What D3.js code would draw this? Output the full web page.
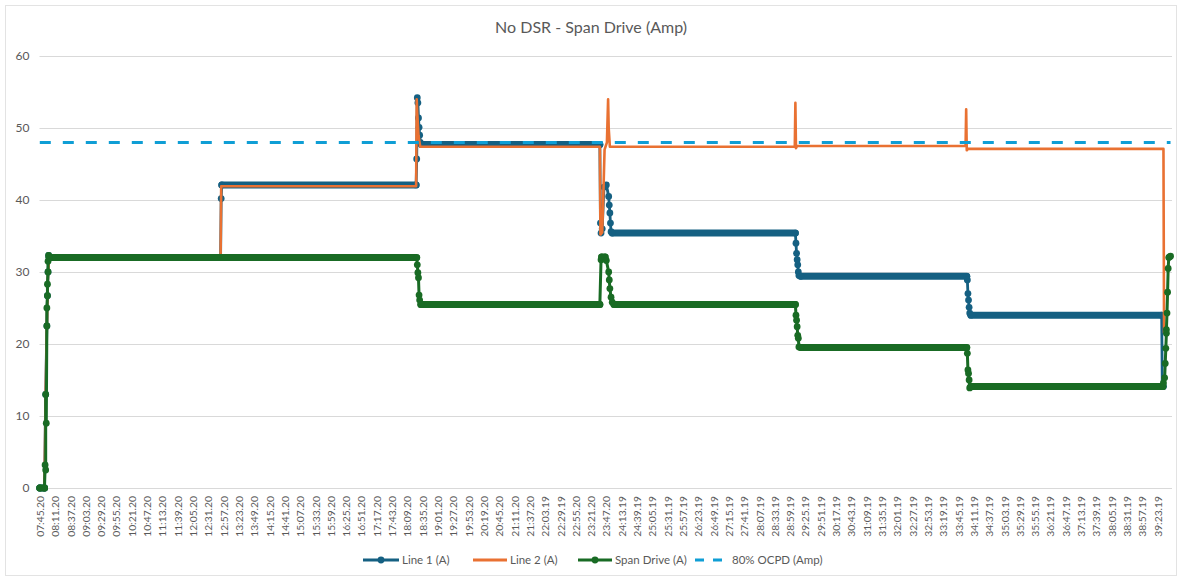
<!DOCTYPE html>
<html>
<head>
<meta charset="utf-8">
<script src="https://cdn.jsdelivr.net/npm/d3@7/dist/d3.min.js"></script>
<style>
  html, body { margin: 0; padding: 0; background: #ffffff; }
  svg { display: block; font-family: "Lato", "Open Sans", sans-serif; }
</style>
</head>
<body>
<svg id="chart" width="1182" height="580"></svg>
<script>
// ---------- DATA ----------
const chartTitle = "No DSR - Span Drive (Amp)";
const seriesNames = ["Line 1 (A)", "Line 2 (A)", "Span Drive (A)", "80% OCPD (Amp)"];
const yTicks = [0, 10, 20, 30, 40, 50, 60];
const labelStep = 26; // seconds between shown category labels
const timeLabels = ["07:45.20","08:11.20","08:37.20","09:03.20","09:29.20","09:55.20","10:21.20","10:47.20","11:13.20","11:39.20","12:05.20","12:31.20","12:57.20","13:23.20","13:49.20","14:15.20","14:41.20","15:07.20","15:33.20","15:59.20","16:25.20","16:51.20","17:17.20","17:43.20","18:09.20","18:35.20","19:01.20","19:27.20","19:53.20","20:19.20","20:45.20","21:11.20","21:37.20","22:03.19","22:29.19","22:55.20","23:21.20","23:47.20","24:13.19","24:39.19","25:05.19","25:31.19","25:57.19","26:23.19","26:49.19","27:15.19","27:41.19","28:07.19","28:33.19","28:59.19","29:25.19","29:51.19","30:17.19","30:43.19","31:09.19","31:35.19","32:01.19","32:27.19","32:53.19","33:19.19","33:45.19","34:11.19","34:37.19","35:03.19","35:29.19","35:55.19","36:21.19","36:47.19","37:13.19","37:39.19","38:05.19","38:31.19","38:57.19","39:23.19"];
const sampleCount = 1923; // samples (seconds) on the category axis

// [sample index (s from 07:45.20), amps]
const line1 = [[0,0],[8,0],[10,13],[12,22.5],[13,26.7],[14,30],[15,32.3],[16,32],
  [307,32],[308,40.2],[309,42.1],
  [639,42.1],[640,45.7],[641,54.2],[642,53.5],[643,51.4],[644,50.1],[645,49],[646,48],[648,47.7],
  [951,47.7],[952,36.8],[953,35.4],[955,36],[958,41.8],[962,42.1],[966,40.5],[967,39.3],[968,38.2],[969,36.8],[970,35.6],[972,35.4],
  [1283,35.4],[1284,34],[1285,32.6],[1286,31.7],[1287,31],[1288,30],[1289,29.5],[1292,29.4],
  [1574,29.4],[1575,28.9],[1576,27],[1577,26.1],[1578,25.1],[1579,24.3],[1581,24.0],
  [1905,24.0],[1906,14.2],[1908,14.1]];
const line2 = [[0,0],[8,0],[10,13],[12,22.5],[14,30],[16,32],[307,32],[308,41.9],
  [639,41.9],[640,54],[641,52],[643,49],[646,47.4],
  [951,47.4],[952,35.2],[955,35.5],[957,41],[959,47],[963,48],[965,54],[966,50],[968,47.4],
  [1282,47.4],[1283,53.5],[1284,47.2],[1286,47.5],
  [1572,47.5],[1573,52.6],[1574,46.9],[1576,47.1],
  [1908,47.1],[1909,21.5]];
const spanDrive = [[0,0],[8,0],[9,3.2],[10,2.5],[10,13],[11,9],[12,22.5],[12,25],[13,26.7],[13,28.3],[14,30],[14,31.5],[15,32.3],[16,32],
  [640,32],[641,31],[642,29.9],[643,29.2],[644,26.8],[645,26.1],[647,25.5],
  [951,25.5],[953,31.7],[954,32.1],[960,32.1],[962,31.6],[966,30],[967,28.9],[968,27.7],[970,26.5],[972,25.8],[975,25.5],
  [1283,25.5],[1284,24],[1285,23.3],[1286,22.4],[1287,21.2],[1288,20.8],[1289,19.6],[1292,19.5],
  [1574,19.5],[1575,18.7],[1576,16.4],[1577,15.9],[1578,15],[1579,13.9],[1581,14.1],
  [1907,14.1],[1908,14.6],[1910,15.3],[1911,17.3],[1912,19.4],[1913,21.5],[1913,22],[1914,24.3],[1915,27.2],[1916,30.5],[1917,32],[1918,32.1],[1920,32.2]];
const ocpd = [[0,48],[1920,48]];

// ---------- STYLE ----------
const colors = ["#156082", "#E97132", "#196B24", "#0F9ED5"];
const textColor = "#595959";
const gridColor = "#d9d9d9";

const svg = d3.select("#chart");
const W = 1182, H = 580;
const plot = { left: 39.5, right: 1172, top: 56, bottom: 488 };

svg.append("rect").attr("x", 0).attr("y", 0).attr("width", W).attr("height", H).attr("fill", "#fff");
svg.append("rect").attr("x", 5.5).attr("y", 5.5).attr("width", 1171).attr("height", 570)
  .attr("fill", "none").attr("stroke", "#e3e3e3").attr("stroke-width", 1);

const x = d3.scaleLinear().domain([-0.5, sampleCount - 0.5]).range([plot.left, plot.right]);
const y = d3.scaleLinear().domain([0, 60]).range([plot.bottom, plot.top]);

// title
svg.append("text").attr("x", 591).attr("y", 33).attr("text-anchor", "middle")
  .attr("fill", textColor).attr("font-size", 16).text(chartTitle);

// y grid + axis
const yAxis = d3.axisLeft(y).tickValues(yTicks).tickSize(-(plot.right - plot.left)).tickPadding(10);
const gy = svg.append("g").attr("transform", `translate(${plot.left},0)`).call(yAxis);
gy.select(".domain").remove();
gy.selectAll(".tick line").attr("stroke", gridColor).attr("stroke-width", 1);
gy.selectAll(".tick text").attr("fill", textColor).attr("font-size", 12).attr("font-family", "Lato, sans-serif");

// x axis labels
const xAxis = d3.axisBottom(x).tickValues(timeLabels.map((d, i) => i * labelStep))
  .tickFormat((d, i) => timeLabels[i]).tickSize(0).tickPadding(0);
const gx = svg.append("g").attr("transform", `translate(0,${plot.bottom})`).call(xAxis);
gx.select(".domain").remove();
gx.selectAll(".tick text")
  .attr("fill", textColor).attr("font-size", 10.3).attr("font-family", "Lato, sans-serif")
  .attr("text-anchor", "end").attr("dy", null)
  .attr("transform", "translate(3.6,8) rotate(-90)");

const lineGen = d3.line().x(d => x(d[0])).y(d => y(d[1]));

function drawSeries(data, color, width, markers) {
  const g = svg.append("g");
  g.append("path").datum(data).attr("d", lineGen).attr("fill", "none")
    .attr("stroke", color).attr("stroke-width", width).attr("stroke-linejoin", "round");
  if (markers) {
    // dense markers along steady plateaus render as a thick band
    const plateaus = [];
    for (let i = 0; i < data.length - 1; i++) {
      if (data[i][1] === data[i + 1][1] && data[i + 1][0] - data[i][0] > 3) plateaus.push([data[i], data[i + 1]]);
    }
    g.selectAll("path.band").data(plateaus).enter().append("path").attr("class", "band")
      .attr("d", lineGen).attr("fill", "none").attr("stroke", color)
      .attr("stroke-width", 7).attr("stroke-linecap", "round");
    g.selectAll("circle").data(data).enter().append("circle")
      .attr("cx", d => x(d[0])).attr("cy", d => y(d[1])).attr("r", 3.4).attr("fill", color);
  }
}

drawSeries(line1, colors[0], 2.8, true);
drawSeries(line2, colors[1], 2.6, false);
drawSeries(spanDrive, colors[2], 3, true);
svg.append("path").datum(ocpd).attr("d", lineGen).attr("fill", "none")
  .attr("stroke", colors[3]).attr("stroke-width", 3).attr("stroke-dasharray", "11,12");

// legend
const legendX = [363, 473, 578, 695];
const legendY = 560;
const lg = svg.append("g");
seriesNames.forEach((name, i) => {
  const g = lg.append("g").attr("transform", `translate(${legendX[i]},${legendY})`);
  const len = i === 0 ? 36 : 34;
  const ln = g.append("line").attr("x1", 0).attr("x2", len).attr("y1", 0).attr("y2", 0)
    .attr("stroke", colors[i]).attr("stroke-width", 3);
  if (i === 3) ln.attr("stroke-dasharray", "9,9").attr("x2", 32);
  if (i === 0 || i === 2) g.append("circle").attr("cx", len / 2).attr("cy", 0).attr("r", 3.4).attr("fill", colors[i]);
  g.append("text").attr("x", len + 3).attr("y", 0).attr("dy", "0.35em")
    .attr("fill", textColor).attr("font-size", 11.5).text(name);
});
</script>
</body>
</html>
